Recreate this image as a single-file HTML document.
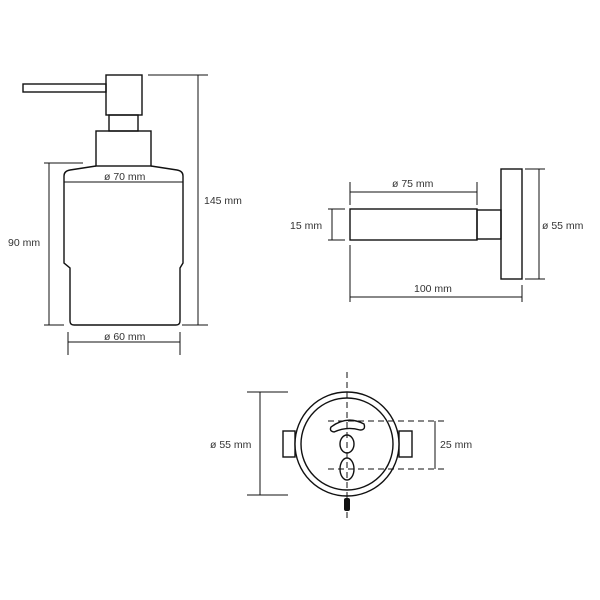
<!DOCTYPE html>
<html><head><meta charset="utf-8"><style>
html,body{margin:0;padding:0;background:#fff;}
svg{display:block;}
text{font-family:"Liberation Sans",sans-serif;font-size:10.5px;fill:#333;}
</style></head><body>
<svg width="600" height="600" viewBox="0 0 600 600" xmlns="http://www.w3.org/2000/svg">
<g fill="none" stroke="#111" stroke-width="1.4">
<!-- dispenser -->
<rect x="23" y="84" width="83" height="8"/>
<rect x="106" y="75" width="36" height="40"/>
<rect x="109" y="115" width="29" height="16"/>
<rect x="96" y="131" width="55" height="35"/>
<path d="M96,166 L70,170 Q64,171 64,176 L64,263 L70,268 L70,321 Q70,325 74,325 L176,325 Q180,325 180,321 L180,268 L183,263 L183,176 Q183,171 177,170 L151,166"/>
<line x1="64" y1="182" x2="183" y2="182" stroke-width="1"/>
<!-- 90 dim -->
<line x1="49" y1="163" x2="49" y2="325" stroke-width="1"/>
<line x1="44" y1="163" x2="83" y2="163" stroke-width="1"/>
<line x1="44" y1="325" x2="64" y2="325" stroke-width="1"/>
<!-- 145 dim -->
<line x1="198" y1="75" x2="198" y2="325" stroke-width="1"/>
<line x1="148" y1="75" x2="208" y2="75" stroke-width="1"/>
<line x1="182" y1="325" x2="208" y2="325" stroke-width="1"/>
<!-- 60 dim -->
<line x1="68" y1="342" x2="180" y2="342" stroke-width="1"/>
<line x1="68" y1="332" x2="68" y2="355" stroke-width="1"/>
<line x1="180" y1="332" x2="180" y2="355" stroke-width="1"/>

<!-- side view -->
<rect x="350" y="209" width="127" height="31"/>
<rect x="477" y="210" width="24" height="29"/>
<rect x="501" y="169" width="21" height="110"/>
<line x1="350" y1="192" x2="477" y2="192" stroke-width="1"/>
<line x1="350" y1="182" x2="350" y2="205" stroke-width="1"/>
<line x1="477" y1="182" x2="477" y2="205" stroke-width="1"/>
<line x1="332" y1="209" x2="332" y2="240" stroke-width="1"/>
<line x1="328" y1="209" x2="345" y2="209" stroke-width="1"/>
<line x1="328" y1="240" x2="345" y2="240" stroke-width="1"/>
<line x1="539" y1="169" x2="539" y2="279" stroke-width="1"/>
<line x1="525" y1="169" x2="545" y2="169" stroke-width="1"/>
<line x1="525" y1="279" x2="545" y2="279" stroke-width="1"/>
<line x1="350" y1="297" x2="522" y2="297" stroke-width="1"/>
<line x1="350" y1="245" x2="350" y2="302" stroke-width="1"/>
<line x1="522" y1="285" x2="522" y2="302" stroke-width="1"/>

<!-- front view -->
<rect x="283" y="431" width="12" height="26"/>
<rect x="399" y="431" width="13" height="26"/>
<circle cx="347" cy="444" r="52" fill="#fff"/>
<circle cx="347" cy="444" r="46"/>
<path d="M331,427 Q347,415 364,424 Q366,430 360,430 Q347,426 334,432 Q329,431 331,427 Z"/>
<ellipse cx="347" cy="444" rx="7" ry="9"/>
<ellipse cx="347" cy="469" rx="7" ry="11"/>
<line x1="347" y1="372" x2="347" y2="520" stroke-width="1" stroke-dasharray="6,4"/>
<line x1="328" y1="421" x2="447" y2="421" stroke-width="1" stroke-dasharray="6,4"/>
<line x1="328" y1="469" x2="447" y2="469" stroke-width="1" stroke-dasharray="6,4"/>
<line x1="435" y1="421" x2="435" y2="469" stroke-width="1"/>
<line x1="260" y1="392" x2="260" y2="495" stroke-width="1"/>
<line x1="247" y1="392" x2="288" y2="392" stroke-width="1"/>
<line x1="247" y1="495" x2="288" y2="495" stroke-width="1"/>
</g>
<rect x="344" y="498" width="6" height="13" rx="2" fill="#111"/>
<text x="8" y="246">90 mm</text>
<text x="204" y="204">145 mm</text>
<text x="104" y="180">ø 70 mm</text>
<text x="104" y="340">ø 60 mm</text>
<text x="392" y="187">ø 75 mm</text>
<text x="290" y="229">15 mm</text>
<text x="542" y="229">ø 55 mm</text>
<text x="414" y="292">100 mm</text>
<text x="440" y="448">25 mm</text>
<text x="210" y="448">ø 55 mm</text>
</svg>
</body></html>
